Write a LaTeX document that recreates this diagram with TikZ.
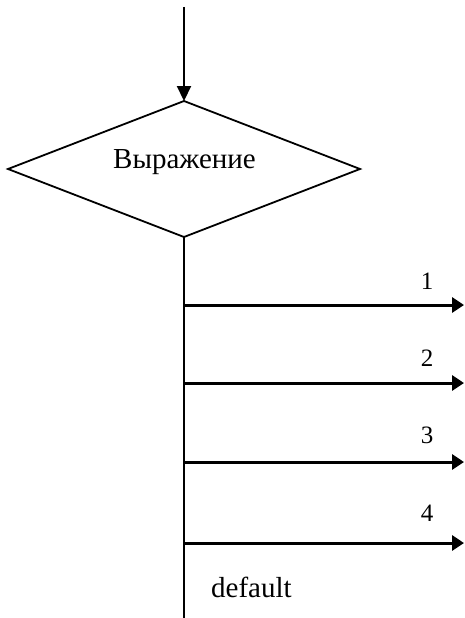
\documentclass[tikz,border=0pt]{standalone}
\usepackage{fontspec}
\setmainfont{Liberation Serif}
\usetikzlibrary{shapes.geometric,arrows.meta}
\begin{document}
\begin{tikzpicture}[x=1pt,y=-1pt,
    decision/.style={draw,shape=diamond,line width=1.8pt,inner sep=0pt,outer sep=0pt,
                     minimum width=352pt,minimum height=136pt},
    flow/.style={line width=2.2pt},
    inarrow/.style={line width=2.2pt,-{Triangle[length=15pt,width=14pt]}},
    casearrow/.style={line width=3pt,-{Triangle[length=12pt,width=15pt]}},
    caselabel/.style={anchor=base,inner sep=0pt,font=\fontsize{25}{30}\selectfont},
    bigtext/.style={anchor=base west,inner sep=0pt,font=\fontsize{29}{35}\selectfont}]
  \useasboundingbox (0,0) rectangle (464,618);

  % switch expression block
  \node[decision] (expr) at (184,169) {};
  \node[bigtext] (exprtext) at (113,168) {Выражение};

  % entry and the trunk line
  \coordinate (entry) at (184,7);
  \coordinate (trunkend) at (184,618);
  \draw[inarrow] (entry) -- (expr.north);
  \draw[flow] (expr.south) -- (trunkend);

  % case branches
  \foreach \i/\y/\b in {1/305/289, 2/383/366, 3/462/443, 4/543/521} {
    \coordinate (from\i) at (184,\y);
    \coordinate (to\i) at (464,\y);
    \draw[casearrow] (from\i) -- (to\i);
    \node[caselabel] (lab\i) at (427,\b) {\i};
  }

  % default branch label
  \node[bigtext] (deflabel) at (211,597) {default};
\end{tikzpicture}
\end{document}
